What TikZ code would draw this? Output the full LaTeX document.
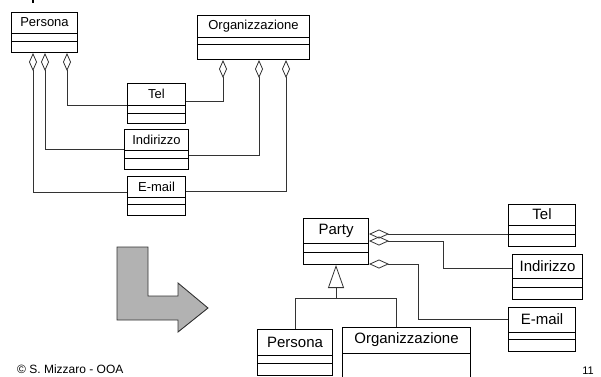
\documentclass[tikz,border=0pt]{standalone}
\usepackage{fontspec}
\setmainfont{Liberation Sans}
\usetikzlibrary{arrows.meta}
\tikzset{
  umlbox/.style={draw=black, line width=1pt, rectangle, inner sep=0pt, fill=white},
  umlsep/.style={draw=black, line width=0.8pt},
  topname/.style={font=\fontsize{13}{15}\selectfont, inner sep=0pt},
  botname/.style={font=\fontsize{15}{17}\selectfont, inner sep=0pt},
  conn/.style={draw=black!80, line width=0.8pt},
  aggrtop/.style={conn, {Diamond[open,length=18pt,width=8pt]}-},
  aggrtopend/.style={conn, -{Diamond[open,length=18pt,width=8pt]}},
  aggrbot/.style={conn, {Diamond[open,length=20pt,width=9pt]}-},
  genz/.style={conn, -{Triangle[open,length=23pt,width=16pt]}},
  bigarrow/.style={fill=black!30, draw=black!80, line width=0.9pt, line join=miter}
}
\newcommand{\umlcls}[9]{%
  \node[umlbox, minimum width=#4pt, minimum height=#5pt, anchor=north west] (#1) at (#2,#3) {};
  \draw[umlsep] ([yshift=-#6pt]#1.north west) -- ([yshift=-#6pt]#1.north east);
  \draw[umlsep] ([yshift=-#7pt]#1.north west) -- ([yshift=-#7pt]#1.north east);
  \node[#9] (#1-n) at ([yshift={-0.5*#6pt}]#1.north) {#8};
}
\begin{document}
\begin{tikzpicture}[x=1pt,y=-1pt]
\clip (0,0) rectangle (601,376);
\fill[white] (0,0) rectangle (601,376);
% small tick at top
\draw[line width=1.2pt] (33,0) -- (33,3);
% ---------- top diagram ----------
\umlcls{persT}{11}{12}{66}{40}{21}{29}{Persona}{topname}
\umlcls{orgT}{197}{15}{112}{44}{22}{29}{Organizzazione}{topname}
\umlcls{telT}{127}{83}{58}{40}{22}{30}{Tel}{topname}
\umlcls{indT}{124}{129}{64}{40}{21}{29}{Indirizzo}{topname}
\umlcls{mailT}{127}{176}{58}{39}{21}{28}{E-mail}{topname}
% Persona -> Tel, Indirizzo, E-mail
\draw[aggrtop] ([xshift=56pt]persT.south west) |- ([yshift=-22pt]telT.north west);
\draw[aggrtop] ([xshift=34pt]persT.south west) |- ([yshift=-20pt]indT.north west);
\draw[aggrtop] ([xshift=22pt]persT.south west) |- ([yshift=-16pt]mailT.north west);
% Tel, Indirizzo, E-mail -> Organizzazione
\draw[aggrtopend] ([yshift=-18pt]telT.north east) -| ([xshift=26pt]orgT.south west);
\draw[aggrtopend] ([yshift=-26pt]indT.north east) -| ([xshift=62pt]orgT.south west);
\draw[aggrtopend] ([yshift=-15pt]mailT.north east) -| ([xshift=89pt]orgT.south west);
% ---------- big arrow ----------
\draw[bigarrow] (117,247) -- (148,247) -- (148,296) -- (178,296) -- (178,283)
  -- (208,308) -- (178,332) -- (178,320) -- (117,320) -- cycle;
% ---------- bottom diagram ----------
\umlcls{party}{303}{218}{65}{46}{25}{34}{Party}{botname}
\umlcls{telB}{508}{204}{67}{42}{21}{30}{Tel}{botname}
\umlcls{indB}{512}{254}{70}{45}{24}{33}{Indirizzo}{botname}
\umlcls{mailB}{508}{307}{67}{44}{25}{32}{E-mail}{botname}
\umlcls{persB}{257}{329}{75}{46}{26}{34}{Persona}{botname}
\umlcls{orgB}{342}{327}{128}{70}{26}{68}{Organizzazione}{botname}
% aggregations from Party
\draw[aggrbot] ([yshift=-16pt]party.north east) -- ([yshift=-30pt]telB.north west);
\draw[aggrbot] ([yshift=-23pt]party.north east) -- ++(74,0) |- ([yshift=-14pt]indB.north west);
\draw[aggrbot] ([yshift=1pt]party.south east) -- ++(49,0) |- ([yshift=-12pt]mailB.north west);
% generalization
\coordinate (gj) at (party.south |- 0,298);
\draw[genz] (gj) -- (party.south);
\draw[conn] (persB.north) |- (gj) -| ([xshift=54pt]orgB.north west);
% ---------- footer ----------
\node[font=\fontsize{12}{14}\selectfont, anchor=base west, inner sep=0pt] (foot) at (17,373) {© S. Mizzaro - OOA};
\node[font=\fontsize{11}{13}\selectfont, anchor=base east, inner sep=0pt] (pnum) at (594,374) {11};
\end{tikzpicture}
\end{document}
